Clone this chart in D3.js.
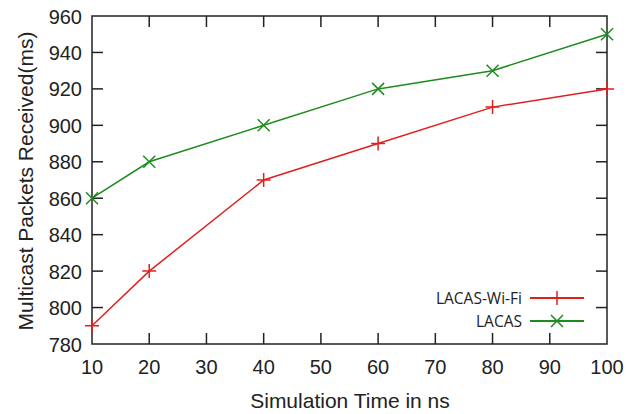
<!DOCTYPE html>
<html><head><meta charset="utf-8">
<script src="https://cdn.jsdelivr.net/npm/d3@7"></script>
<style>body{margin:0;background:#fff;} text{font-family:"Liberation Sans",Arial,sans-serif;}</style>
</head><body>
<svg id="c" width="635" height="414"></svg>
<script>
const xValues = [10, 20, 40, 60, 80, 100];
const wifiValues = [790, 820, 870, 890, 910, 920];
const lacasValues = [860, 880, 900, 920, 930, 950];
const xTicks = [10, 20, 30, 40, 50, 60, 70, 80, 90, 100];
const yTicks = [780, 800, 820, 840, 860, 880, 900, 920, 940, 960];
const seriesNames = ["LACAS-Wi-Fi", "LACAS"];

const svg = d3.select("#c");
const L = 92, R = 607, T = 16, B = 344;
const x = d3.scaleLinear().domain([10, 100]).range([L, R]);
const y = d3.scaleLinear().domain([780, 960]).range([B, T]);
const red = "#e0201e", green = "#1e8c1e";
const tickLen = 11;

// ticks (inward, mirrored)
const axisG = svg.append("g").attr("stroke", "#222").attr("stroke-width", 1.5);
xTicks.forEach(v => {
  if (v === 10 || v === 100) return;
  axisG.append("line").attr("x1", x(v)).attr("x2", x(v)).attr("y1", B).attr("y2", B - tickLen);
  axisG.append("line").attr("x1", x(v)).attr("x2", x(v)).attr("y1", T).attr("y2", T + tickLen);
});
yTicks.forEach(v => {
  if (v === 780 || v === 960) return;
  axisG.append("line").attr("x1", L).attr("x2", L + tickLen).attr("y1", y(v)).attr("y2", y(v));
  axisG.append("line").attr("x1", R).attr("x2", R - tickLen).attr("y1", y(v)).attr("y2", y(v));
});
svg.append("rect").attr("x", L).attr("y", T).attr("width", R - L).attr("height", B - T)
  .attr("fill", "none").attr("stroke", "#222").attr("stroke-width", 1.5);

// tick labels
svg.append("g").selectAll("text").data(xTicks).join("text")
  .attr("x", d => x(d)).attr("y", 374).attr("text-anchor", "middle")
  .attr("font-size", 20).attr("fill", "#222").text(d => d);
svg.append("g").selectAll("text").data(yTicks).join("text")
  .attr("x", 82).attr("y", d => y(d) + 7.5).attr("text-anchor", "end")
  .attr("font-size", 20).attr("fill", "#222").text(d => d);

// axis titles
svg.append("text").attr("x", 350).attr("y", 408).attr("text-anchor", "middle")
  .attr("font-size", 21).attr("fill", "#222").text("Simulation Time in ns");
svg.append("text").attr("transform", "translate(33,181) rotate(-90)").attr("text-anchor", "middle")
  .attr("font-size", 21).attr("fill", "#222").text("Multicast Packets Received(ms)");

const line = d3.line().x(d => x(d[0])).y(d => y(d[1]));
function plus(g, cx, cy, col) {
  g.append("path").attr("d", `M${cx-7},${cy}H${cx+7}M${cx},${cy-7}V${cy+7}`)
    .attr("stroke", col).attr("stroke-width", 1.5).attr("fill", "none");
}
function cross(g, cx, cy, col) {
  g.append("path").attr("d", `M${cx-6},${cy-6}L${cx+6},${cy+6}M${cx-6},${cy+6}L${cx+6},${cy-6}`)
    .attr("stroke", col).attr("stroke-width", 1.5).attr("fill", "none");
}
const wifi = xValues.map((v, i) => [v, wifiValues[i]]);
const lacas = xValues.map((v, i) => [v, lacasValues[i]]);
const gp = svg.append("g");
gp.append("path").attr("d", line(wifi)).attr("fill", "none").attr("stroke", red).attr("stroke-width", 1.5);
gp.append("path").attr("d", line(lacas)).attr("fill", "none").attr("stroke", green).attr("stroke-width", 1.5);
wifi.forEach(d => plus(gp, x(d[0]), y(d[1]), red));
lacas.forEach(d => cross(gp, x(d[0]), y(d[1]), green));

// legend
const lg = svg.append("g");
const legY = [298, 321];
const cols = [red, green];
seriesNames.forEach((n, i) => {
  lg.append("text").attr("x", 522).attr("y", legY[i] + 5.5).attr("text-anchor", "end")
    .attr("font-size", 15.5).attr("fill", "#222").style("font-family", "'Open Sans',sans-serif").text(n);
  lg.append("line").attr("x1", 530).attr("x2", 584).attr("y1", legY[i]).attr("y2", legY[i])
    .attr("stroke", cols[i]).attr("stroke-width", 1.8);
  if (i === 0) plus(lg, 557, legY[i], red); else cross(lg, 557, legY[i], green);
});
</script>
</body></html>
